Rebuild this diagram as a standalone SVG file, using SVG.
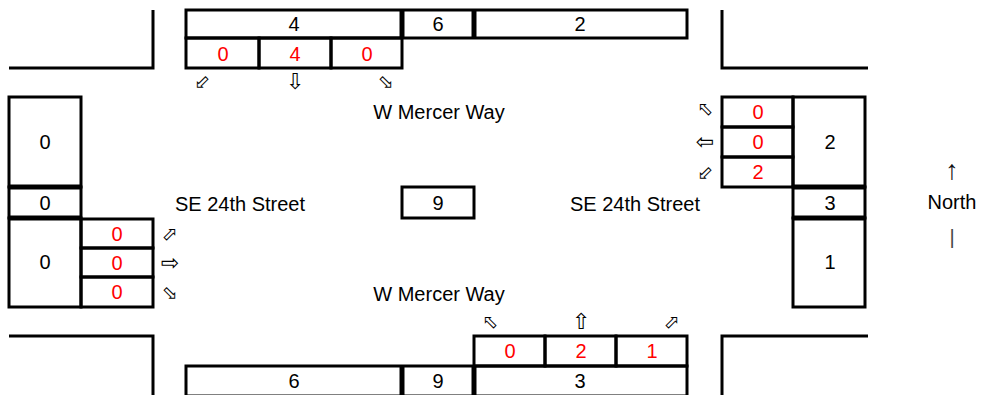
<svg xmlns="http://www.w3.org/2000/svg" width="993" height="395" viewBox="0 0 993 395">
  <style>
    .box { fill: none; stroke: #000; stroke-width: 3; }
    .sep { stroke: #000; stroke-width: 5; }
    .curb { fill: none; stroke: #000; stroke-width: 3; }
    text { font-family: "Liberation Sans", Arial, sans-serif; font-size: 20px; text-anchor: middle; fill: #000; }
    .vol { fill: #ff0000; }
    .arr { font-family: "DejaVu Sans", "Noto Sans", sans-serif; font-size: 19px; dominant-baseline: central; fill: #000; font-variant-emoji: text; }
    .arr.st { font-size: 22px; }
    .sym { font-size: 27px; fill: #111; dominant-baseline: central; }
  </style>
  <rect width="993" height="395" fill="#fff"/>

  <!-- street corners -->
  <g id="corners">
    <path class="curb" d="M9 68 H153 V10"/>
    <path class="curb" d="M722 10 V68 H868"/>
    <path class="curb" d="M9 336 H153 V395"/>
    <path class="curb" d="M722 395 V336 H868"/>
  </g>

  <!-- north approach -->
  <g id="north">
    <rect class="box" x="186" y="10" width="501" height="28"/>
    <line class="sep" x1="402" y1="10" x2="402" y2="38"/>
    <line class="sep" x1="474" y1="10" x2="474" y2="38"/>
    <text x="294" y="31">4</text>
    <text x="438" y="31">6</text>
    <text x="580" y="31">2</text>
    <rect class="box" x="186" y="38" width="73" height="30"/>
    <rect class="box" x="259" y="38" width="72" height="30"/>
    <rect class="box" x="331" y="38" width="71" height="30"/>
    <text class="vol" x="223" y="60.5">0</text>
    <text class="vol" x="295" y="60.5">4</text>
    <text class="vol" x="367" y="60.5">0</text>
    <text class="arr" x="202" y="81">⬃</text>
    <text class="arr st" x="295" y="81">⇩</text>
    <text class="arr" x="386" y="81">⬂</text>
  </g>

  <!-- west approach -->
  <g id="west">
    <rect class="box" x="9" y="97" width="72" height="90"/>
    <rect class="box" x="9" y="187" width="72" height="31"/>
    <rect class="box" x="9" y="218" width="72" height="89"/>
    <line class="sep" x1="9" y1="187" x2="82" y2="187"/>
    <line class="sep" x1="9" y1="218" x2="82" y2="218"/>
    <text x="45" y="149">0</text>
    <text x="45" y="210">0</text>
    <text x="45" y="269">0</text>
    <rect class="box" x="81" y="219" width="72" height="29"/>
    <rect class="box" x="81" y="248" width="72" height="29"/>
    <rect class="box" x="81" y="277" width="72" height="30"/>
    <text class="vol" x="117" y="241">0</text>
    <text class="vol" x="117" y="270">0</text>
    <text class="vol" x="117" y="299">0</text>
    <text class="arr" x="170" y="233">⬀</text>
    <text class="arr st" x="170" y="262">⇨</text>
    <text class="arr" x="170" y="292">⬂</text>
  </g>

  <!-- east approach -->
  <g id="east">
    <rect class="box" x="722" y="97" width="71" height="30"/>
    <rect class="box" x="722" y="127" width="71" height="30"/>
    <rect class="box" x="722" y="157" width="71" height="30"/>
    <text class="vol" x="758" y="119">0</text>
    <text class="vol" x="758" y="149">0</text>
    <text class="vol" x="758" y="179">2</text>
    <rect class="box" x="793" y="97" width="72" height="90"/>
    <rect class="box" x="793" y="187" width="72" height="31"/>
    <rect class="box" x="793" y="218" width="72" height="89"/>
    <line class="sep" x1="793" y1="187" x2="865" y2="187"/>
    <line class="sep" x1="793" y1="218" x2="865" y2="218"/>
    <text x="830" y="149">2</text>
    <text x="830" y="210">3</text>
    <text x="830" y="269">1</text>
    <text class="arr" x="705" y="108">⬁</text>
    <text class="arr st" x="705" y="141">⇦</text>
    <text class="arr" x="705" y="172">⬃</text>
  </g>

  <!-- south approach -->
  <g id="south">
    <rect class="box" x="474" y="336" width="71" height="30"/>
    <rect class="box" x="545" y="336" width="71" height="30"/>
    <rect class="box" x="616" y="336" width="71" height="30"/>
    <text class="vol" x="510" y="358">0</text>
    <text class="vol" x="581" y="358">2</text>
    <text class="vol" x="652" y="358">1</text>
    <rect class="box" x="186" y="366" width="501" height="30"/>
    <line class="sep" x1="402" y1="366" x2="402" y2="395"/>
    <line class="sep" x1="474" y1="366" x2="474" y2="395"/>
    <text x="294" y="388">6</text>
    <text x="438" y="388">9</text>
    <text x="580" y="388">3</text>
    <text class="arr" x="490" y="321">⬁</text>
    <text class="arr st" x="581" y="321">⇧</text>
    <text class="arr" x="672" y="321">⬀</text>
  </g>

  <!-- centre total -->
  <g id="centre">
    <rect class="box" x="402" y="187" width="72" height="31"/>
    <text x="438" y="210">9</text>
  </g>

  <!-- street names -->
  <g id="labels">
    <text x="439" y="119">W Mercer Way</text>
    <text x="439" y="301">W Mercer Way</text>
    <text x="240" y="210.5">SE 24th Street</text>
    <text x="635" y="210.5">SE 24th Street</text>
  </g>

  <!-- north indicator -->
  <g id="compass">
    <text class="sym" x="952" y="170">↑</text>
    <text x="952" y="209">North</text>
    <text x="952" y="244" style="fill:#444">|</text>
  </g>
</svg>
